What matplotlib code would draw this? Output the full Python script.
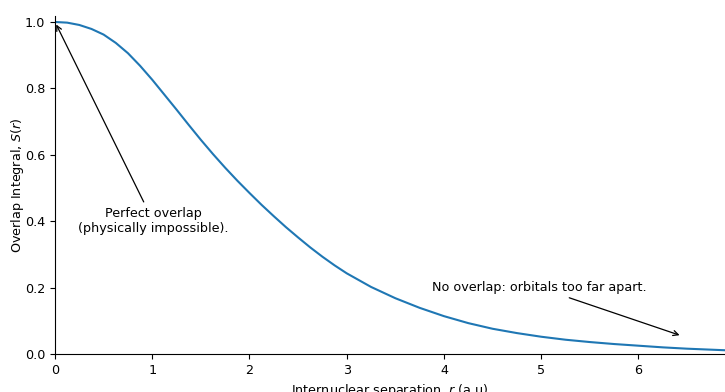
import numpy as np
import matplotlib
matplotlib.use("Agg")
import matplotlib.pyplot as plt

plt.rcParams['font.size'] = 9.2

# values
r = [0.0, 0.125, 0.25, 0.375, 0.5, 0.625, 0.75, 0.875, 1.0, 1.125, 1.25,
     1.375, 1.5, 1.625, 1.75, 1.875, 2.0, 2.125, 2.25, 2.375, 2.5, 2.625,
     2.75, 2.875, 3.0, 3.25, 3.5, 3.75, 4.0, 4.25, 4.5, 4.75, 5.0, 5.25,
     5.5, 5.75, 6.0, 6.25, 6.5, 6.75, 7.0]
S = [1.000, 0.998, 0.991, 0.979, 0.962, 0.937, 0.906, 0.868, 0.826, 0.781,
     0.736, 0.690, 0.645, 0.602, 0.561, 0.522, 0.485, 0.449, 0.415, 0.382,
     0.351, 0.321, 0.293, 0.267, 0.243, 0.202, 0.168, 0.139, 0.114, 0.093,
     0.076, 0.063, 0.052, 0.043, 0.036, 0.030, 0.025, 0.020, 0.016, 0.013,
     0.010]

fig = plt.figure(figsize=(7.25, 3.92), dpi=100)
ax = fig.add_axes([55/725, 38/392, 670/725, 338/392])
ax.plot(r, S, color='tab:blue', lw=1.5)

ax.annotate("Perfect overlap\n(physically impossible).", xy=(0.0, 1.0),
            xytext=(1.01, 0.40), ha='center', va='center',
            arrowprops=dict(arrowstyle='->', color='black', lw=0.9))
ax.annotate("No overlap: orbitals too far apart.", xy=(6.45, 0.054),
            xytext=(4.98, 0.20), ha='center', va='center',
            arrowprops=dict(arrowstyle='->', color='black', lw=0.9))

ax.set_xlim(0, 6.89)
ax.set_ylim(0, 1.018)
ax.spines['top'].set_visible(False)
ax.spines['right'].set_visible(False)
ax.set_xlabel(r"Internuclear separation, $r$ (a.u)")
ax.set_ylabel(r"Overlap Integral, $S(r)$", labelpad=-1)

fig.savefig("out.png", dpi=100)
